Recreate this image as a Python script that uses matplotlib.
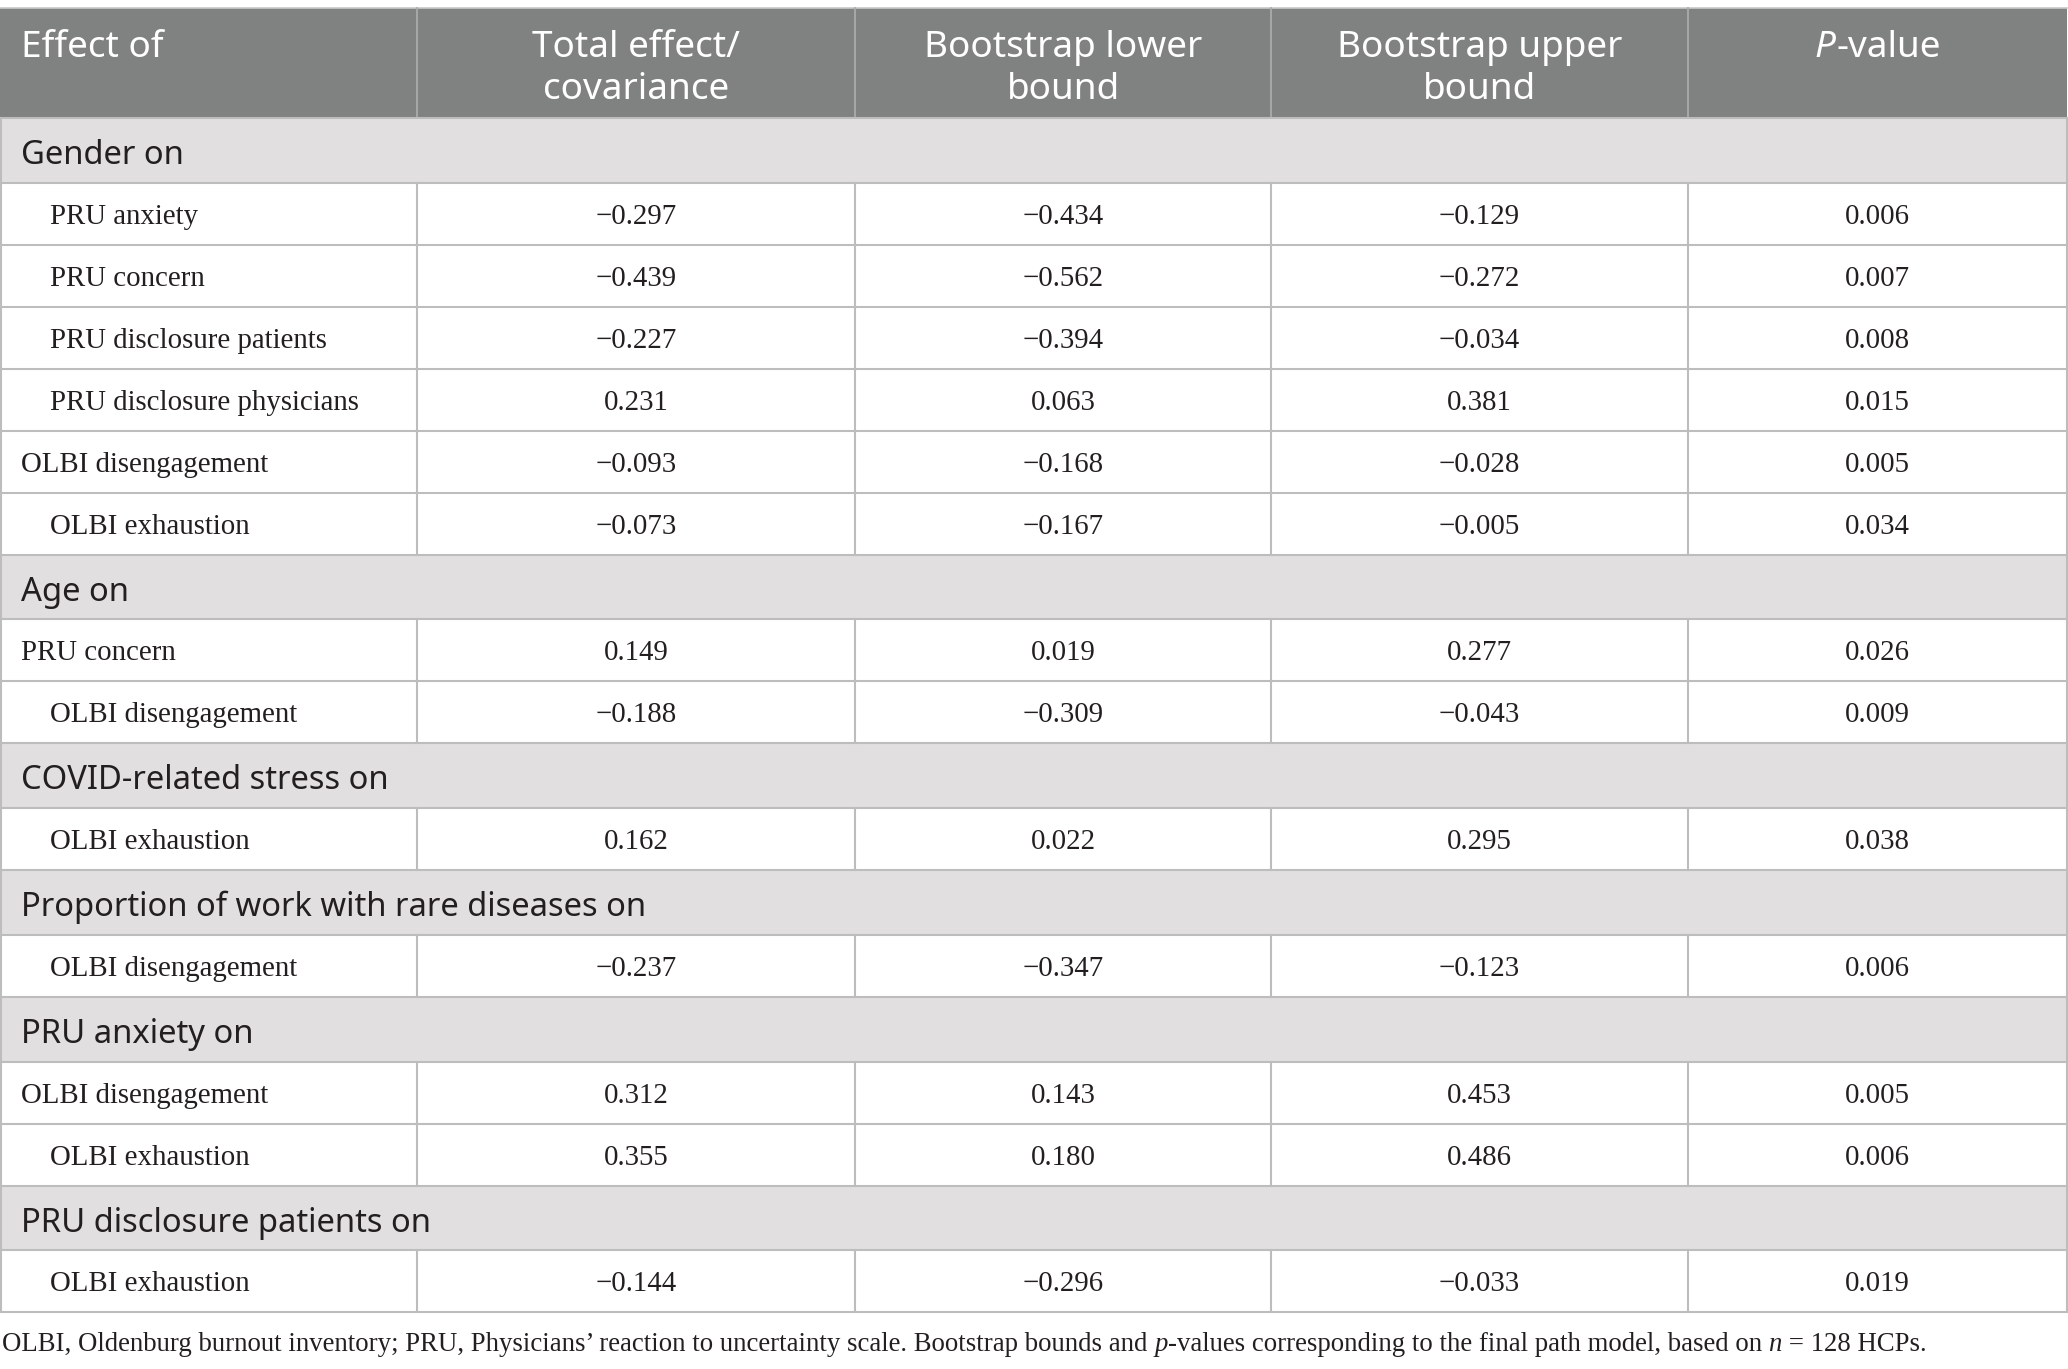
import matplotlib.pyplot as plt
from matplotlib.patches import Rectangle

# table content
headers = ["Effect of", "Total effect/\ncovariance", "Bootstrap lower\nbound",
           "Bootstrap upper\nbound", "P-value"]

sections = ["Gender on", "Age on", "COVID-related stress on",
            "Proportion of work with rare diseases on", "PRU anxiety on",
            "PRU disclosure patients on"]

row_section = [0, 0, 0, 0, 0, 0, 1, 1, 2, 3, 4, 4, 5]
row_labels = ["PRU anxiety", "PRU concern", "PRU disclosure patients",
              "PRU disclosure physicians", "OLBI disengagement", "OLBI exhaustion",
              "PRU concern", "OLBI disengagement",
              "OLBI exhaustion",
              "OLBI disengagement",
              "OLBI disengagement", "OLBI exhaustion",
              "OLBI exhaustion"]
row_indent = [1, 1, 1, 1, 0, 1, 0, 1, 1, 1, 0, 1, 1]
total_effect = ["−0.297", "−0.439", "−0.227", "0.231", "−0.093", "−0.073",
                "0.149", "−0.188", "0.162", "−0.237", "0.312", "0.355", "−0.144"]
boot_lower = ["−0.434", "−0.562", "−0.394", "0.063", "−0.168", "−0.167",
              "0.019", "−0.309", "0.022", "−0.347", "0.143", "0.180", "−0.296"]
boot_upper = ["−0.129", "−0.272", "−0.034", "0.381", "−0.028", "−0.005",
              "0.277", "−0.043", "0.295", "−0.123", "0.453", "0.486", "−0.033"]
p_values = ["0.006", "0.007", "0.008", "0.015", "0.005", "0.034",
            "0.026", "0.009", "0.038", "0.006", "0.005", "0.006", "0.019"]

W, H = 2068, 1369
col_x = [0, 417, 855, 1271, 1688, 2067]
header_top, header_bot = 8, 118
sec_h, row_h = 64.7, 62

head_bg = "#808281"
sec_bg = "#e1dfe0"
line_c = "#bdbdbd"
txt_c = "#231f20"
sans = "Noto Sans"
serif = "Liberation Serif"
hsize, ssize, bsize, fsize = 26.6, 23.6, 20.8, 19.3

fig = plt.figure(figsize=(W / 100, H / 100), dpi=100)
ax = fig.add_axes([0, 0, 1, 1])
ax.set_xlim(0, W)
ax.set_ylim(H, 0)
ax.axis("off")

fig.canvas.draw()
r = fig.canvas.get_renderer()
inv = ax.transData.inverted()


def width_of(t):
    bb = t.get_window_extent(renderer=r)
    p0 = inv.transform((bb.x0, bb.y0))
    p1 = inv.transform((bb.x1, bb.y1))
    return p1[0] - p0[0]


# header
ax.add_patch(Rectangle((0, header_top), col_x[-1], header_bot - header_top,
                       facecolor=head_bg, edgecolor="none"))
ax.plot([0, col_x[-1]], [header_top, header_top], color="#c8c8c8", lw=1.2)
for x in col_x[1:-1]:
    ax.plot([x, x], [header_top, header_bot], color="#a9aaa9", lw=1.3)
ax.text(21, 57, headers[0], fontsize=hsize, family=sans, color="white",
        ha="left", va="baseline")
for i in range(1, 4):
    cx = (col_x[i] + col_x[i + 1]) / 2
    for k, line in enumerate(headers[i].split("\n")):
        ax.text(cx, 57 + 42 * k, line, fontsize=hsize, family=sans,
                color="white", ha="center", va="baseline")
# P-value with italic P
cx = (col_x[4] + col_x[5]) / 2
t1 = ax.text(0, 57, "P", fontsize=hsize, family=sans, style="italic",
             color="white", va="baseline")
t2 = ax.text(0, 57, "-value", fontsize=hsize, family=sans, color="white",
             va="baseline")
w1, w2 = width_of(t1), width_of(t2)
t1.set_x(cx - (w1 + w2) / 2)
t2.set_x(cx - (w1 + w2) / 2 + w1 + 1)

# body
y = header_bot
prev_sec = -1
for i, lab in enumerate(row_labels):
    if row_section[i] != prev_sec:
        prev_sec = row_section[i]
        ax.add_patch(Rectangle((0, y), col_x[-1], sec_h, facecolor=sec_bg,
                               edgecolor="none"))
        ax.text(21, y + 46, sections[prev_sec], fontsize=ssize,
                family=sans, color=txt_c, ha="left", va="baseline")
        ax.plot([0, col_x[-1]], [y, y], color=line_c, lw=1.5)
        y += sec_h
    ax.plot([0, col_x[-1]], [y, y], color=line_c, lw=1.5)
    for x in col_x[1:-1]:
        ax.plot([x, x], [y, y + row_h], color=line_c, lw=1.5)
    ax.text(50 if row_indent[i] else 21, y + 41, lab, fontsize=bsize,
            family=serif, color=txt_c, ha="left", va="baseline")
    vals = [total_effect[i], boot_lower[i], boot_upper[i], p_values[i]]
    for j, v in enumerate(vals):
        ax.text((col_x[j + 1] + col_x[j + 2]) / 2, y + 41, v,
                fontsize=bsize, family=serif, color=txt_c, ha="center",
                va="baseline")
    y += row_h
ax.plot([0, col_x[-1]], [y, y], color=line_c, lw=1.5)
ax.plot([0.7, 0.7], [header_bot, y], color=line_c, lw=1.5)
ax.plot([col_x[-1], col_x[-1]], [header_bot, y], color=line_c, lw=1.5)

# footnote
foot = [("OLBI, Oldenburg burnout inventory; PRU, Physicians’ reaction to uncertainty scale. Bootstrap bounds and ", "normal"),
        ("p", "italic"),
        ("-values corresponding to the final path model, based on ", "normal"),
        ("n", "italic"),
        (" = 128 HCPs.", "normal")]
fx = 2
for s, st in foot:
    t = ax.text(fx, 1351, s, fontsize=fsize, family=serif, style=st,
                color=txt_c, ha="left", va="baseline")
    fx += width_of(t)

fig.savefig("out.png", dpi=100)
